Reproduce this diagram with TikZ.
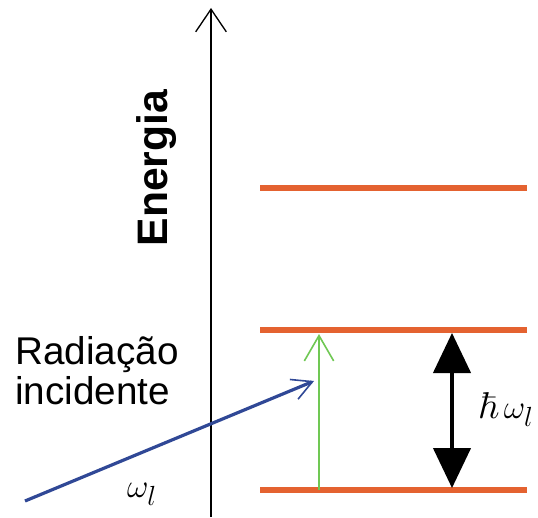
\documentclass[tikz,border=0pt]{standalone}
\usepackage{amsmath, amssymb}
\usepackage[no-math]{fontspec}
\setmainfont{Liberation Sans}
\usepackage{tikz}
\usetikzlibrary{arrows.meta,positioning,calc}

\definecolor{levelorange}{RGB}{228,98,48}
\definecolor{absgreen}{RGB}{112,200,84}
\definecolor{radblue}{RGB}{48,72,150}

\tikzset{
    level/.style={levelorange, line width=4pt},
    axisline/.style={black, line width=1.7pt, -{Straight Barb[length=17pt,width=23pt,line width=1pt]}},
}

\begin{document}
\begin{tikzpicture}[x=0.75pt,y=-0.75pt]
    \useasboundingbox (0,0) rectangle (538,517);

    % Eixo de energia
    \coordinate (axbot) at (211,517);
    \coordinate (axtop) at (211,8);
    \draw[axisline] (axbot) -- (axtop);
    \node[rotate=90, font=\fontsize{32}{34}\selectfont\bfseries] (energia) at (157,168) {Energia};

    % Niveis
    \coordinate (n2a) at (260,188); \coordinate (n2b) at (527,188);
    \coordinate (n1a) at (260,330); \coordinate (n1b) at (527,330);
    \coordinate (n0a) at (260,490); \coordinate (n0b) at (527,490);
    \draw[level] (n2a) -- (n2b);
    \draw[level] (n1a) -- (n1b);
    \draw[level] (n0a) -- (n0b);

    % Absorcao
    \coordinate (gbot) at (319,490);
    \coordinate (gtop) at (319,334);
    \draw[absgreen, line width=2.2pt, -{Straight Barb[length=19pt,width=22pt,line width=1.2pt]}] (gbot) -- (gtop);

    % Radiacao incidente
    \coordinate (rstart) at (25,501);
    \coordinate (rend) at (314,381);
    \draw[radblue, line width=2.4pt, -{Straight Barb[length=15pt,width=16pt,line width=1.2pt]}] (rstart) -- (rend);
    \node[anchor=north west, align=left, font=\fontsize{29}{30}\selectfont, inner sep=0pt] (rad) at (15,336) {Radia\c{c}\~ao\\incidente};
    \node[font=\fontsize{28}{30}\selectfont] (wl) at (142,494) {$\omega_l$};

    % Diferenca de energia
    \coordinate (dtop) at (452,333);
    \coordinate (dbot) at (452,488);
    \draw[black, line width=2.4pt, {Triangle[length=30pt,width=28pt]}-{Triangle[length=30pt,width=28pt]}] (dtop) -- (dbot);
    \node[anchor=west, font=\fontsize{28}{30}\selectfont, inner sep=0pt] (hw) at (478,410) {$\hbar\,\omega_l$};
\end{tikzpicture}
\end{document}
